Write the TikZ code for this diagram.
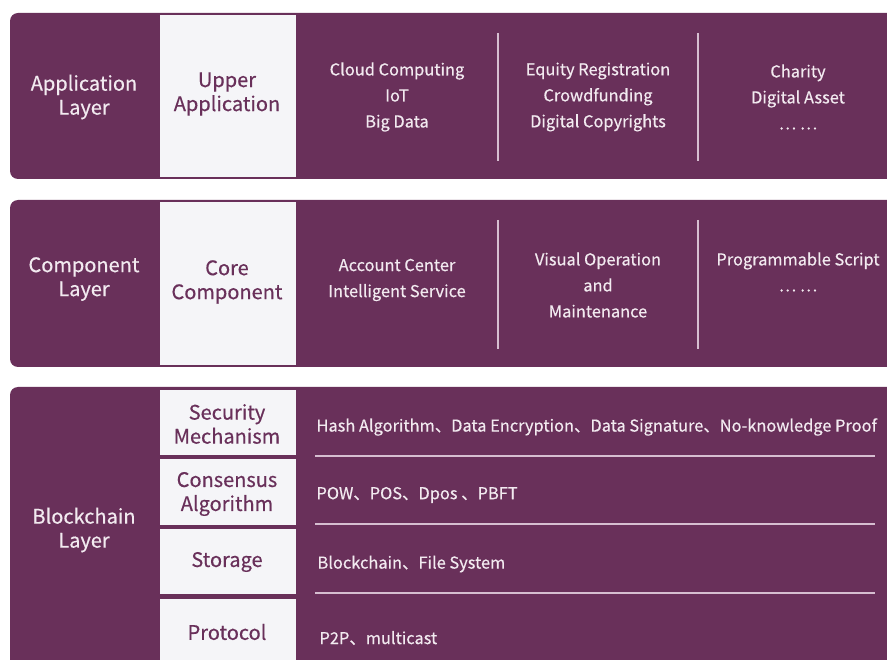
\documentclass[tikz,border=0pt]{standalone}
\usepackage{fontspec}
\setmainfont{Noto Sans CJK SC}[FakeBold=0.45]
\usepackage{tikz}
\usetikzlibrary{positioning}

\definecolor{plum}{RGB}{105,48,90}
\definecolor{paper}{RGB}{245,245,248}
\definecolor{ink}{RGB}{242,234,240}
\definecolor{rule}{RGB}{214,190,208}

\tikzset{
    band/.style={fill=plum, draw=none, rounded corners=8pt},
    tile/.style={fill=paper, draw=none},
    layerlab/.style={text=ink, align=center, font=\fontsize{20}{24}\selectfont},
    tilelab/.style={text=plum, align=center, font=\fontsize{20}{24}\selectfont},
    item/.style={text=ink, align=center, font=\fontsize{16.4}{26}\selectfont},
    row/.style={text=ink, anchor=west, font=\fontsize{16.4}{20}\selectfont},
    sep/.style={draw=rule, line width=1.3pt}
}

\begin{document}
\begin{tikzpicture}[x=1pt, y=-1pt]
        \useasboundingbox (0,0) rectangle (887,660);
        \clip (0,0) rectangle (887,660);
        \fill[white] (0,0) rectangle (887,660);

        % Bands
        \fill[band] (10,13) rectangle (930,179);
        \fill[band] (10,200) rectangle (930,367);
        \fill[band] (10,387) rectangle (930,700);

        % Tiles
        \fill[tile] (160,15) rectangle (296,177);
        \fill[tile] (160,202) rectangle (296,365);
        \fill[tile] (160,390) rectangle (296,455);
        \fill[tile] (160,459) rectangle (296,525);
        \fill[tile] (160,529) rectangle (296,594);
        \fill[tile] (160,599) rectangle (296,670);

        % Application layer
        \node[layerlab] (app) at (84,97) {Application\\Layer};
        \node[tilelab] (upper) at (227,94) {Upper\\Application};
        \node[item] (cloud) at (397,97) {Cloud Computing\\IoT\\Big Data};
        \node[item] (equity) at (598,97) {Equity Registration\\Crowdfunding\\Digital Copyrights};
        \node[item] (charity) at (798,97) {Charity\\Digital Asset\\… …};

        % Component layer
        \node[layerlab] (comp) at (84,279) {Component\\Layer};
        \node[tilelab] (core) at (227,282) {Core\\Component};
        \node[item] (account) at (397,280) {Account Center\\Intelligent Service};
        \node[item] (visual) at (598,285) {Visual Operation\\and\\Maintenance};
        \node[item] (script) at (798,272) {Programmable Script\\… …};

        % Blockchain layer
        \node[layerlab] (chain) at (84,530) {Blockchain\\Layer};
        \node[tilelab] (security) at (227,424) {Security\\Mechanism};
        \node[tilelab] (consensus) at (227,494) {Consensus\\Algorithm};
        \node[tilelab] (storage) at (227,562) {Storage};
        \node[tilelab] (protocol) at (227,632) {Protocol};
        \node[row] (hash) at (313,427) {Hash Algorithm、Data Encryption、Data Signature、No-knowledge Proof};
        \node[row] (pow) at (313,495) {POW、POS、Dpos 、PBFT};
        \node[row] (files) at (314,564) {Blockchain、File System};
        \node[row] (p2p) at (316,638) {P2P、multicast};

        % Column rules
        \foreach \x in {498,698} {
            \draw[sep] (\x,33) -- (\x,161);
            \draw[sep] (\x,220) -- (\x,349);
        }
        % Row rules
        \foreach \y in {456,524,593}
            \draw[sep] (315,\y) -- (875,\y);
    \end{tikzpicture}
\end{document}
